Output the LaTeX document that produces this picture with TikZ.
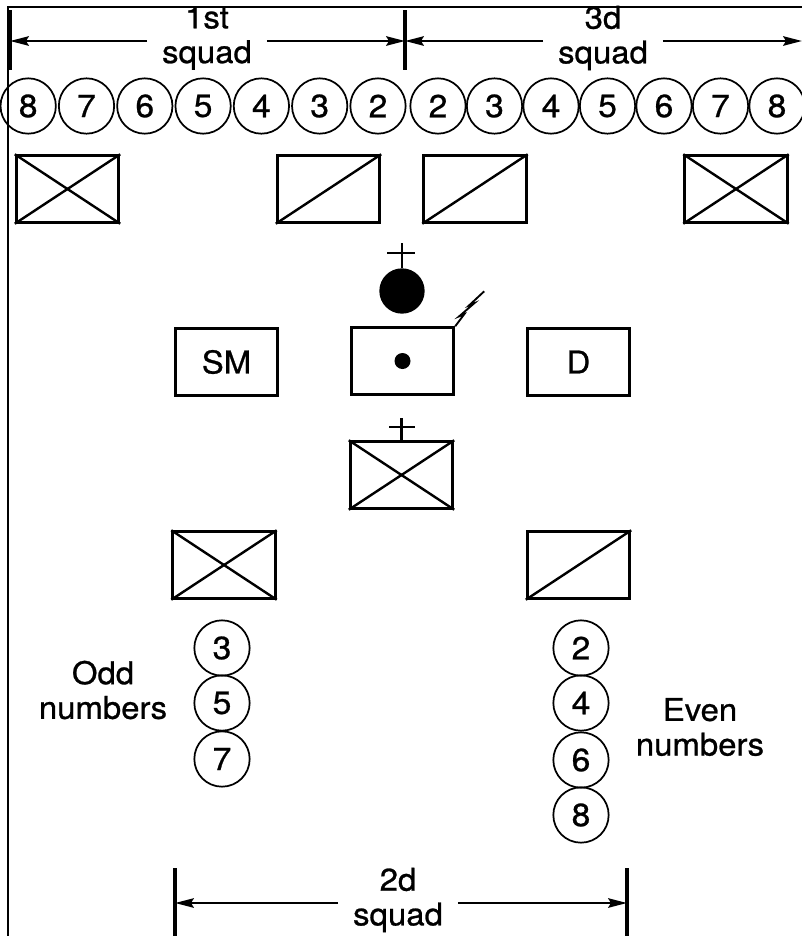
\documentclass[tikz,border=0pt]{standalone}
\usepackage{fontspec}
\setmainfont{TeX Gyre Heros}[FakeStretch=1.05,FakeBold=0.8]
\usetikzlibrary{arrows.meta}
\tikzset{
  num/.style={circle,draw,line width=1.3pt,minimum size=41.5pt,inner sep=0pt,font=\fontsize{24}{24}\selectfont},
  veh/.style={rectangle,draw,line width=2.1pt,minimum width=77pt,minimum height=50pt,inner sep=0pt,font=\fontsize{23.5}{24}\selectfont},
  squadlbl/.style={align=center,inner xsep=11pt,inner ysep=0pt,font=\fontsize{23.5}{26}\selectfont},
  dimarrow/.style={-{Stealth[length=14pt,width=7pt,inset=2pt]},line width=2.1pt},
  dimbar/.style={line width=2.3pt},
  cross/.style={line width=1.8pt}
}
\begin{document}
\begin{tikzpicture}[x=.75pt,y=-.75pt]
\useasboundingbox (0,0) rectangle (802,936);
\draw[line width=1.9pt] (8,936)--(8,7)--(802,7);

\node[squadlbl] (sq1) at (207,38) {1st\\squad};
\node[squadlbl] (sq3) at (603,38) {3d\\squad};
\coordinate (l1) at (10,41); \coordinate (m13) at (405,41); \coordinate (r3) at (802,41);
\draw[dimbar] (10,10)--(10,70); \draw[dimbar] (405,10)--(405,70);
\draw[dimarrow] (sq1.west |- l1)--(l1);
\draw[dimarrow] (sq1.east |- l1)--(m13);
\draw[dimarrow] (sq3.west |- l1)--(m13);
\draw[dimarrow] (sq3.east |- l1)--(r3);

\foreach \i in {2,...,8}{
  \node[num] (a\i) at ({378-(\i-2)*58.3},106) {\i};
  \node[num] (c\i) at ({438+(\i-2)*56.5},106) {\i};
}

\node[veh] (v1) at (67.5,189) {};
\draw[cross] (v1.north west)--(v1.south east) (v1.south west)--(v1.north east);
\node[veh] (v2) at (328.5,189) {};
\draw[cross] (v2.south west)--(v2.north east);
\node[veh] (v3) at (475,189) {};
\draw[cross] (v3.south west)--(v3.north east);
\node[veh] (v4) at (736,189) {};
\draw[cross] (v4.north west)--(v4.south east) (v4.south west)--(v4.north east);

\node[circle,fill=black,minimum size=34pt,inner sep=0pt] (pl) at (402,291) {};
\draw[cross] (pl.north)--++(0,-25) (387,253)--(415,253);

\node[veh] (sm) at (226.5,362) {SM};
\node[veh] (cp) at (402.5,361) {};
\node[circle,fill=black,minimum size=12pt,inner sep=0pt] (dot) at (cp) {};
\node[veh] (d) at (578.5,362) {D};
\draw[line width=1.4pt] (cp.north east)--++(9,-12)--++(-5,2)--++(15,-13)--++(-5,2)--++(15,-14);

\node[veh] (ps) at (401.5,475) {};
\draw[cross] (ps.north west)--(ps.south east) (ps.south west)--(ps.north east);
\draw[cross] (ps.north)--++(0,-22) (389,427)--(415,427);

\node[veh] (v5) at (224,565) {};
\draw[cross] (v5.north west)--(v5.south east) (v5.south west)--(v5.north east);
\node[veh] (v6) at (578.5,565) {};
\draw[cross] (v6.south west)--(v6.north east);

\node[num] (o3) at (222,648) {3};
\node[num] (o5) at (222,703) {5};
\node[num] (o7) at (222,759) {7};
\node[num] (e2) at (581,648) {2};
\node[num] (e4) at (581,703) {4};
\node[num] (e6) at (581,760) {6};
\node[num] (e8) at (581,815) {8};
\node[squadlbl] (odd) at (103,690) {Odd\\numbers};
\node[squadlbl] (even) at (700,727) {Even\\numbers};

\node[squadlbl] (sq2) at (398,900) {2d\\squad};
\coordinate (l2) at (175,903); \coordinate (r2) at (627,903);
\draw[dimbar] (175,868)--(175,936); \draw[dimbar] (627,868)--(627,936);
\draw[dimarrow] (sq2.west |- l2)--(l2);
\draw[dimarrow] (sq2.east |- l2)--(r2);
\end{tikzpicture}
\end{document}
